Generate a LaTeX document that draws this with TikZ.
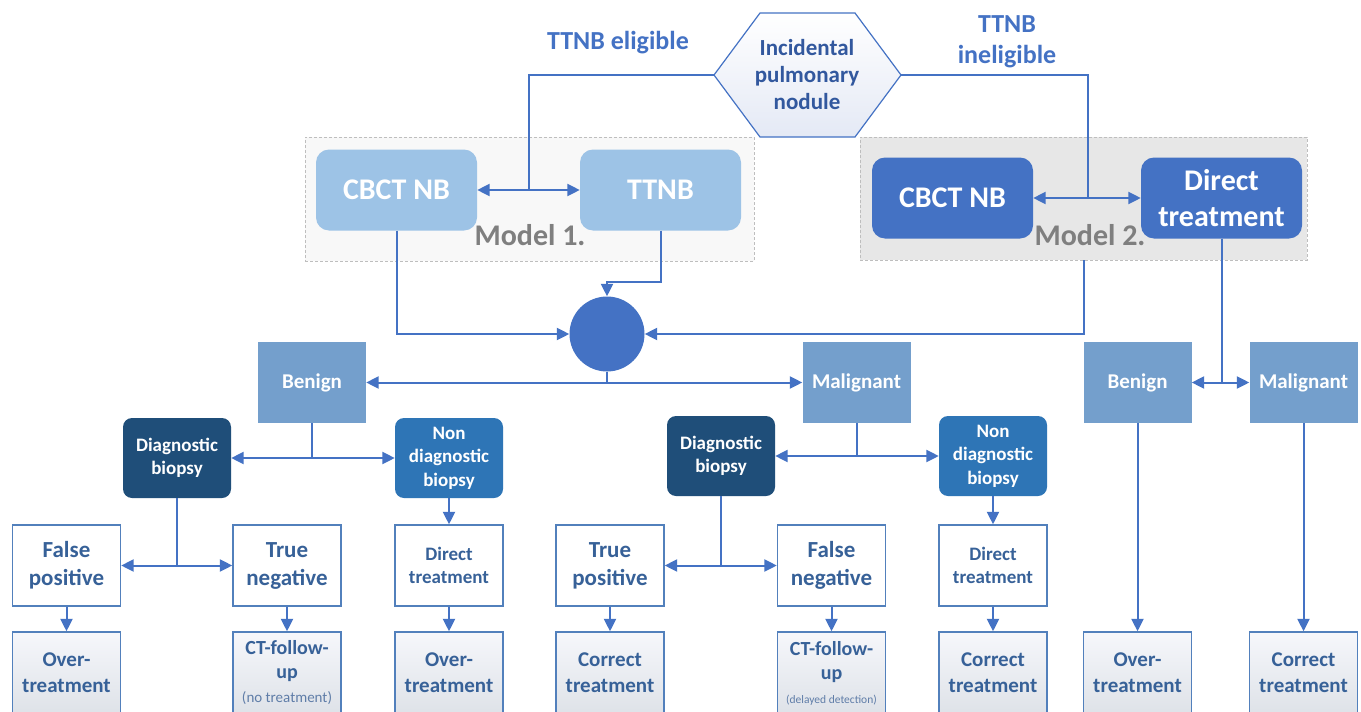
\documentclass[tikz,border=0pt]{standalone}
\usepackage{fontspec}
\setmainfont{Carlito}
\usetikzlibrary{arrows.meta}

\definecolor{lineblue}{RGB}{68,114,196}
\definecolor{hextext}{RGB}{50,88,158}
\definecolor{hexbottom}{RGB}{228,233,245}
\definecolor{modellight}{RGB}{157,195,230}
\definecolor{modeldark}{RGB}{68,114,196}
\definecolor{classfill}{RGB}{116,159,204}
\definecolor{diagfill}{RGB}{31,78,121}
\definecolor{nondiagfill}{RGB}{46,117,182}
\definecolor{outline}{RGB}{82,128,188}
\definecolor{outtext}{RGB}{55,97,152}
\definecolor{grpgray}{RGB}{127,127,127}
\definecolor{grponefill}{RGB}{248,248,248}
\definecolor{grptwofill}{RGB}{231,231,231}
\definecolor{grpline}{RGB}{190,190,190}
\definecolor{endtop}{RGB}{246,247,251}
\definecolor{endbottom}{RGB}{222,226,232}
\definecolor{subtext}{RGB}{95,125,168}

\newcommand\fsz[2]{\fontsize{#1pt}{#2pt}\selectfont}

\begin{document}
\begin{tikzpicture}[x=1pt,y=-1pt,
  line/.style={draw=lineblue,line width=2pt},
  arr/.style={line,-{Triangle[length=12.5pt,width=12pt]}},
  grp/.style={draw=grpline,dash pattern=on 3pt off 2pt,line width=0.8pt,inner sep=0pt},
  mlight/.style={fill=modellight,rounded corners=13pt,inner sep=0pt,minimum width=161pt,minimum height=81pt,text=white,font=\fsz{30}{36}\bfseries,align=center},
  mdark/.style={mlight,fill=modeldark},
  cls/.style={fill=classfill,inner sep=0pt,minimum width=108pt,minimum height=81pt,text=white,font=\fsz{21}{25}\bfseries},
  bio/.style={rounded corners=9pt,inner sep=0pt,minimum width=108pt,minimum height=80pt,text=white,font=\fsz{19}{23.5}\bfseries,align=center},
  res/.style={draw=outline,line width=1.4pt,fill=white,inner sep=0pt,minimum width=108pt,minimum height=81pt,text=outtext,align=center,font=\fsz{23}{28}\bfseries},
  fin/.style={draw=outline,line width=1.4pt,top color=endtop,bottom color=endbottom,inner sep=0pt,minimum width=108pt,minimum height=82pt,text=outtext,align=center,font=\fsz{21}{26}\bfseries},
  lbl/.style={text=lineblue,font=\fsz{26}{31}\bfseries,align=center},
  mlbl/.style={text=grpgray,font=\fsz{30}{36}\bfseries}
]
\useasboundingbox (0,0) rectangle (1361,712);
\clip (0,0) rectangle (1361,712);
\fill[white] (0,0) rectangle (1361,712);

% start: hexagon
\path[draw=lineblue,line width=1.2pt,top color=white,bottom color=hexbottom]
  (714,75) -- (760,13) -- (855,13) -- (901,75) -- (855,137) -- (760,137) -- cycle;
\node[font=\fsz{23}{27}\bfseries,text=hextext,align=center] (hex) at (807,75) {Incidental\\pulmonary\\nodule};
\coordinate (hexW) at (714,75);
\coordinate (hexE) at (901,75);

\node[lbl] (elig) at (618,43) {TTNB eligible};
\node[lbl] (inelig) at (1007,42) {TTNB\\ineligible};

% model groups
\node[grp,fill=grponefill,minimum width=449pt,minimum height=124pt] (m1) at (529.5,199) {};
\node[grp,fill=grptwofill,minimum width=447pt,minimum height=123pt] (m2) at (1083.5,198.5) {};

\node[mlight] (cb1) at (396.5,190) {CBCT NB};
\node[mlight] (tt) at (660.5,190) {TTNB};
\node[mdark] (cb2) at (952.5,198) {CBCT NB};
\node[mdark] (dt) at (1221.5,198) {Direct\\treatment};

\node[mlbl] (lab1) at (530,235) {Model 1.};
\node[mlbl] (lab2) at (1090,235) {Model 2.};

% merge point
\node[circle,fill=modeldark,minimum size=75pt,inner sep=0pt] (hub) at (607,334) {};

% classification
\node[cls] (ben1) at (312,382.5) {Benign};
\node[cls] (mal1) at (856.5,382.5) {Malignant};
\node[cls] (ben2) at (1137.5,382.5) {Benign};
\node[cls] (mal2) at (1303.5,382.5) {Malignant};

% biopsy outcome
\node[bio,fill=diagfill] (db1) at (177,458) {Diagnostic\\biopsy};
\node[bio,fill=nondiagfill] (nd1) at (449,458) {Non\\diagnostic\\biopsy};
\node[bio,fill=diagfill] (db2) at (721,456) {Diagnostic\\biopsy};
\node[bio,fill=nondiagfill] (nd2) at (993,456) {Non\\diagnostic\\biopsy};

% test results
\node[res] (fp) at (66.5,565.5) {False\\positive};
\node[res] (tn) at (287,565.5) {True\\negative};
\node[res,font=\fsz{19}{23}\bfseries] (dt1) at (449,565.5) {Direct\\treatment};
\node[res] (tp) at (610,565.5) {True\\positive};
\node[res] (fn) at (831.5,565.5) {False\\negative};
\node[res,font=\fsz{19}{23}\bfseries] (dt2) at (993,565.5) {Direct\\treatment};

% final states
\node[fin] (fo1) at (66.5,673) {Over-\\treatment};
\node[fin,font=\fsz{20}{24}\bfseries] (fo2) at (287,673) {CT-follow-\\up\\{\fsz{15}{24}\mdseries\color{subtext}(no treatment)}};
\node[fin] (fo3) at (449,673) {Over-\\treatment};
\node[fin] (fo4) at (610,673) {Correct\\treatment};
\node[fin,font=\fsz{20}{24}\bfseries] (fo5) at (831.5,673) {CT-follow-\\up\\{\fsz{11.5}{24}\mdseries\color{subtext}(delayed detection)}};
\node[fin] (fo6) at (993,673) {Correct\\treatment};
\node[fin] (fo7) at (1137.5,673) {Over-\\treatment};
\node[fin] (fo8) at (1303.5,673) {Correct\\treatment};

% connectors
\coordinate (j1) at (529,190);
\draw[line] (hexW) -| (j1);
\draw[arr] (j1) -- (cb1.east);
\draw[arr] (j1) -- (tt.west);
\coordinate (j2) at (1088,198);
\draw[line] (hexE) -| (j2);
\draw[arr] (j2) -- (cb2.east);
\draw[arr] (j2) -- (dt.west);

\draw[arr] (cb1.south) |- (hub.west);
\draw[arr] (tt.south) |- ([yshift=14pt]hub.north) -- (hub.north);
\draw[arr] (m2.south) |- (hub.east);

\draw[arr] (hub.south) |- (ben1.east);
\draw[arr] (hub.south) |- (mal1.west);
\draw[arr] (dt.south) |- (ben2.east);
\draw[arr] (dt.south) |- (mal2.west);

\draw[arr] (ben1.south) |- (db1.east);
\draw[arr] (ben1.south) |- (nd1.west);
\draw[arr] (mal1.south) |- (db2.east);
\draw[arr] (mal1.south) |- (nd2.west);

\draw[arr] (db1.south) |- (fp.east);
\draw[arr] (db1.south) |- (tn.west);
\draw[arr] (db2.south) |- (tp.east);
\draw[arr] (db2.south) |- (fn.west);
\draw[arr] (nd1) -- (dt1);
\draw[arr] (nd2) -- (dt2);

\draw[arr] (fp) -- (fo1);
\draw[arr] (tn) -- (fo2);
\draw[arr] (dt1) -- (fo3);
\draw[arr] (tp) -- (fo4);
\draw[arr] (fn) -- (fo5);
\draw[arr] (dt2) -- (fo6);
\draw[arr] (ben2) -- (fo7);
\draw[arr] (mal2) -- (fo8);
\end{tikzpicture}
\end{document}
